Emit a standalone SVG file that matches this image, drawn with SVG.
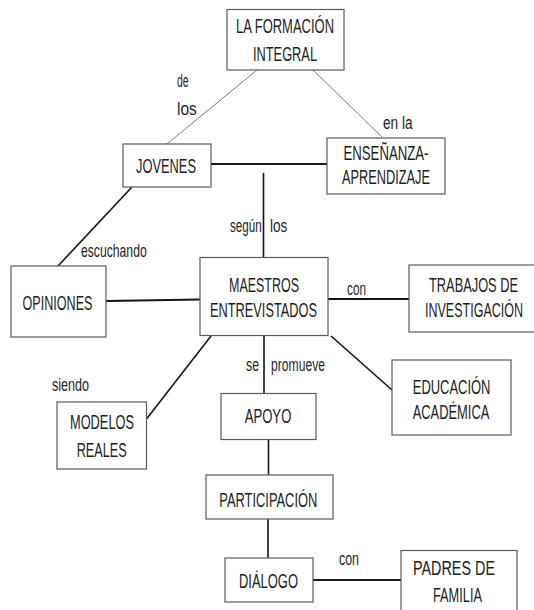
<svg xmlns="http://www.w3.org/2000/svg" width="534" height="610" viewBox="0 0 534 610">
<style>
.box{fill:#fff;stroke:#5a5a5a;stroke-width:1.2}
.t{font-family:"Liberation Sans Narrow","Liberation Sans",Arial,sans-serif;font-size:20.5px;fill:#1e1e1e;text-anchor:middle}
.l{font-family:"Liberation Sans Narrow","Liberation Sans",Arial,sans-serif;font-size:17.5px;fill:#1e1e1e}
.thin{stroke:#7a7a7a;stroke-width:1;fill:none}
.dk{stroke:#151515;stroke-width:1.6;fill:none}
.hv{stroke:#151515;stroke-width:2.2;fill:none}
</style>
<rect width="534" height="610" fill="#fff"/>
<g id="connectors">
<line class="thin" x1="257" y1="70" x2="167" y2="144"/>
<line class="thin" x1="313" y1="70" x2="382" y2="137"/>
<line class="hv" x1="211" y1="164" x2="327" y2="164"/>
<line class="dk" x1="263.5" y1="173" x2="263.5" y2="258"/>
<line class="dk" x1="132" y1="187" x2="58" y2="266"/>
<line class="hv" x1="106" y1="301" x2="200" y2="299.5"/>
<line class="hv" x1="328" y1="299" x2="409" y2="299"/>
<line class="dk" x1="211" y1="336" x2="146.5" y2="419"/>
<line class="dk" x1="264" y1="336" x2="264" y2="393.5"/>
<line class="dk" x1="331" y1="336" x2="392" y2="390"/>
<line class="dk" x1="268.5" y1="439.5" x2="268.5" y2="475"/>
<line class="dk" x1="268" y1="519" x2="268" y2="558"/>
<line class="hv" x1="313" y1="580" x2="401" y2="580"/>
</g>
<g id="labels">
<text class="l" x="177" y="87" textLength="11.5" lengthAdjust="spacingAndGlyphs">de</text>
<text class="l" x="177" y="115" textLength="19.7" lengthAdjust="spacingAndGlyphs">los</text>
<text class="l" x="383" y="129" textLength="29.7" lengthAdjust="spacingAndGlyphs">en la</text>
<text class="l" x="230" y="232.3" textLength="31.7" lengthAdjust="spacingAndGlyphs">según</text>
<text class="l" x="270" y="232.3" textLength="17.3" lengthAdjust="spacingAndGlyphs">los</text>
<text class="l" x="81" y="257.3" textLength="65.7" lengthAdjust="spacingAndGlyphs">escuchando</text>
<text class="l" x="347" y="295" textLength="19" lengthAdjust="spacingAndGlyphs">con</text>
<text class="l" x="52" y="391" textLength="37" lengthAdjust="spacingAndGlyphs">siendo</text>
<text class="l" x="246" y="370.6" textLength="13" lengthAdjust="spacingAndGlyphs">se</text>
<text class="l" x="271" y="370.6" textLength="54" lengthAdjust="spacingAndGlyphs">promueve</text>
<text class="l" x="339" y="565" textLength="20" lengthAdjust="spacingAndGlyphs">con</text>
</g>
<g id="formacion">
<rect class="box" x="227" y="9.5" width="117" height="60.5"/>
<text class="t" x="285" y="33.3" textLength="98" lengthAdjust="spacingAndGlyphs">LA FORMACIÓN</text>
<text class="t" x="285" y="61" textLength="64" lengthAdjust="spacingAndGlyphs">INTEGRAL</text>
</g>
<g id="jovenes">
<rect class="box" x="123" y="144" width="88" height="43"/>
<text class="t" x="166" y="173.3" textLength="60" lengthAdjust="spacingAndGlyphs">JOVENES</text>
</g>
<g id="ensenanza">
<rect class="box" x="327" y="138" width="118" height="56"/>
<text class="t" x="386" y="160" textLength="85" lengthAdjust="spacingAndGlyphs">ENSEÑANZA-</text>
<text class="t" x="386" y="184" textLength="88" lengthAdjust="spacingAndGlyphs">APRENDIZAJE</text>
</g>
<g id="opiniones">
<rect class="box" x="11" y="266" width="95" height="71"/>
<text class="t" x="57.5" y="310" textLength="70" lengthAdjust="spacingAndGlyphs">OPINIONES</text>
</g>
<g id="maestros">
<rect class="box" x="200" y="257.5" width="128" height="78"/>
<text class="t" x="264" y="291.7" textLength="70" lengthAdjust="spacingAndGlyphs">MAESTROS</text>
<text class="t" x="263.5" y="317.3" textLength="107" lengthAdjust="spacingAndGlyphs">ENTREVISTADOS</text>
</g>
<g id="trabajos">
<rect class="box" x="409" y="265" width="130" height="67"/>
<text class="t" x="473.5" y="291.7" textLength="89" lengthAdjust="spacingAndGlyphs">TRABAJOS DE</text>
<text class="t" x="474" y="316.7" textLength="98" lengthAdjust="spacingAndGlyphs">INVESTIGACIÓN</text>
</g>
<g id="modelos">
<rect class="box" x="57" y="402" width="89.5" height="67"/>
<text class="t" x="102" y="429" textLength="64" lengthAdjust="spacingAndGlyphs">MODELOS</text>
<text class="t" x="101.7" y="456.5" textLength="50" lengthAdjust="spacingAndGlyphs">REALES</text>
</g>
<g id="apoyo">
<rect class="box" x="221" y="393.5" width="95" height="46"/>
<text class="t" x="268" y="423.4" textLength="46.7" lengthAdjust="spacingAndGlyphs">APOYO</text>
</g>
<g id="educacion">
<rect class="box" x="392" y="360" width="119" height="75"/>
<text class="t" x="451.6" y="393.5" textLength="77.7" lengthAdjust="spacingAndGlyphs">EDUCACIÓN</text>
<text class="t" x="451" y="419" textLength="76.6" lengthAdjust="spacingAndGlyphs">ACADÉMICA</text>
</g>
<g id="participacion">
<rect class="box" x="206" y="475" width="127" height="44"/>
<text class="t" x="268.3" y="506.7" textLength="98" lengthAdjust="spacingAndGlyphs">PARTICIPACIÓN</text>
</g>
<g id="dialogo">
<rect class="box" x="225" y="558" width="88" height="44"/>
<text class="t" x="268.5" y="588.3" textLength="59" lengthAdjust="spacingAndGlyphs">DIÁLOGO</text>
</g>
<g id="padres">
<rect class="box" x="401" y="550.5" width="116" height="70"/>
<text class="t" x="454" y="575" textLength="82" lengthAdjust="spacingAndGlyphs">PADRES DE</text>
<text class="t" x="457.5" y="601.7" textLength="49" lengthAdjust="spacingAndGlyphs">FAMILIA</text>
</g>
</svg>
